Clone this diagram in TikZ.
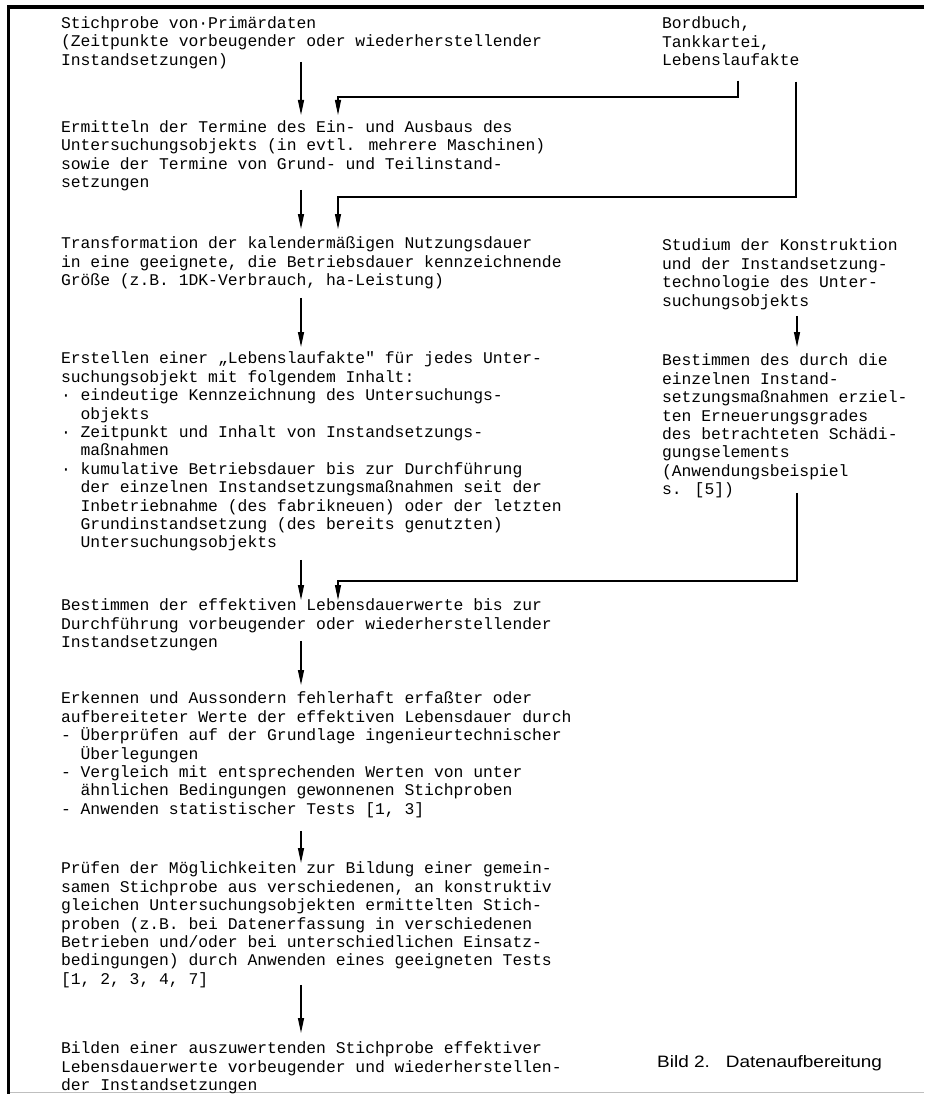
\documentclass[tikz,border=0pt]{standalone}
\usepackage{fontspec}
\usetikzlibrary{arrows.meta}
\newfontfamily\monofont{Liberation Mono}
\newfontfamily\capfont[FakeStretch=1.15]{Liberation Sans}
\begin{document}
\begin{tikzpicture}[x=1pt,y=-1pt,
  txt/.style={anchor=north west, inner sep=0pt, outer sep=0pt, align=left,
    font=\monofont\fontsize{16.36}{18.4}\selectfont},
  arr/.style={line width=1.3pt, -{Triangle[length=15pt,width=6pt]}},
  feed/.style={line width=1.1pt, -{Triangle[length=15pt,width=6pt]}}]
\useasboundingbox (0,0) rectangle (924,1094);
% frame
\draw[line width=3.5pt] (924,7) -- (8.5,7) -- (8.5,1094);
\draw[line width=0.6pt, black!25] (10,1092.5) -- (924,1092.5);
% x positions of connectors
\coordinate (ax) at (301,0);
\coordinate (fx) at (338,0);
\coordinate (rx1) at (738,0);
\coordinate (rx2) at (796,0);
\coordinate (rx3) at (797,0);
% left column
\node[txt] (b1) at (61,15.6) {\strut Stichprobe von·Primärdaten\\
(Zeitpunkte vorbeugender oder wiederherstellender\\
Instandsetzungen)};
\node[txt] (b2) at (61,119.6) {\strut Ermitteln der Termine des Ein- und Ausbaus des\\
Untersuchungsobjekts (in evtl. mehrere Maschinen)\\
sowie der Termine von Grund- und Teilinstand-\\
setzungen};
\node[txt] (b3) at (61,236.1) {\strut Transformation der kalendermäßigen Nutzungsdauer\\
in eine geeignete, die Betriebsdauer kennzeichnende\\
Größe (z.B. 1DK-Verbrauch, ha-Leistung)};
\node[txt] (b4) at (61,351.1) {\strut Erstellen einer „Lebenslaufakte" für jedes Unter-\\
suchungsobjekt mit folgendem Inhalt:\\
· eindeutige Kennzeichnung des Untersuchungs-\\
\phantom{xx}objekts\\
· Zeitpunkt und Inhalt von Instandsetzungs-\\
\phantom{xx}maßnahmen\\
· kumulative Betriebsdauer bis zur Durchführung\\
\phantom{xx}der einzelnen Instandsetzungsmaßnahmen seit der\\
\phantom{xx}Inbetriebnahme (des fabrikneuen) oder der letzten\\
\phantom{xx}Grundinstandsetzung (des bereits genutzten)\\
\phantom{xx}Untersuchungsobjekts};
\node[txt] (b5) at (61,598.1) {\strut Bestimmen der effektiven Lebensdauerwerte bis zur\\
Durchführung vorbeugender oder wiederherstellender\\
Instandsetzungen};
\node[txt] (b6) at (61,691.1) {\strut Erkennen und Aussondern fehlerhaft erfaßter oder\\
aufbereiteter Werte der effektiven Lebensdauer durch\\
- Überprüfen auf der Grundlage ingenieurtechnischer\\
\phantom{xx}Überlegungen\\
- Vergleich mit entsprechenden Werten von unter\\
\phantom{xx}ähnlichen Bedingungen gewonnenen Stichproben\\
- Anwenden statistischer Tests [1, 3]};
\node[txt] (b7) at (61,861.1) {\strut Prüfen der Möglichkeiten zur Bildung einer gemein-\\
samen Stichprobe aus verschiedenen, an konstruktiv\\
gleichen Untersuchungsobjekten ermittelten Stich-\\
proben (z.B. bei Datenerfassung in verschiedenen\\
Betrieben und/oder bei unterschiedlichen Einsatz-\\
bedingungen) durch Anwenden eines geeigneten Tests\\
{}[1, 2, 3, 4, 7]};
\node[txt] (b8) at (61,1041.1) {\strut Bilden einer auszuwertenden Stichprobe effektiver\\
Lebensdauerwerte vorbeugender und wiederherstellen-\\
der Instandsetzungen};
% right column
\node[txt] (r1) at (662,16.1) {\strut Bordbuch,\\
Tankkartei,\\
Lebenslaufakte};
\node[txt] (r2) at (662,238.1) {\strut Studium der Konstruktion\\
und der Instandsetzung-\\
technologie des Unter-\\
suchungsobjekts};
\node[txt] (r3) at (662,353.1) {\strut Bestimmen des durch die\\
einzelnen Instand-\\
setzungsmaßnahmen erziel-\\
ten Erneuerungsgrades\\
des betrachteten Schädi-\\
gungselements\\
(Anwendungsbeispiel\\
s. [5])};
\node[anchor=base west, inner sep=0pt, font=\capfont\fontsize{16.5}{19}\selectfont] (cap) at (657,1067) {Bild 2.\hspace{16pt}Datenaufbereitung};
% main arrows
\draw[arr] ([yshift=6.8pt]b1.south -| ax) -- ([yshift=4.6pt]b2.north -| ax);
\draw[arr] ([yshift=1.2pt]b2.south -| ax) -- ([yshift=7.1pt]b3.north -| ax);
\draw[arr] ([yshift=-8.7pt]b3.south -| ax) -- ([yshift=4.1pt]b4.north -| ax);
\draw[arr] ([yshift=-8.5pt]b4.south -| ax) -- ([yshift=-1.9pt]b5.north -| ax);
\draw[arr] ([yshift=10.3pt]b5.south -| ax) -- ([yshift=6.1pt]b6.north -| ax);
\draw[arr] ([yshift=-13.1pt]b6.south -| ax) -- ([yshift=-1.9pt]b7.north -| ax);
\draw[arr] ([yshift=2.9pt]b7.south -| ax) -- ([yshift=8.1pt]b8.north -| ax);
\draw[arr] ([yshift=-6.3pt]r2.south -| rx3) -- ([yshift=6.1pt]r3.north -| rx3);
% feed lines from the right
\draw[feed] ([yshift=-14.7pt]r1.south -| rx1) |- ([yshift=22.6pt]b2.north -| fx) -- ([yshift=4.6pt]b2.north -| fx);
\draw[feed] ([yshift=-15.7pt]r1.south -| rx2) |- ([yshift=39.1pt]b3.north -| fx) -- ([yshift=7.1pt]b3.north -| fx);
\draw[feed] ([yshift=5.3pt]r3.south -| rx3) |- ([yshift=17.1pt]b5.north -| fx) -- ([yshift=-1.9pt]b5.north -| fx);
\end{tikzpicture}
\end{document}
